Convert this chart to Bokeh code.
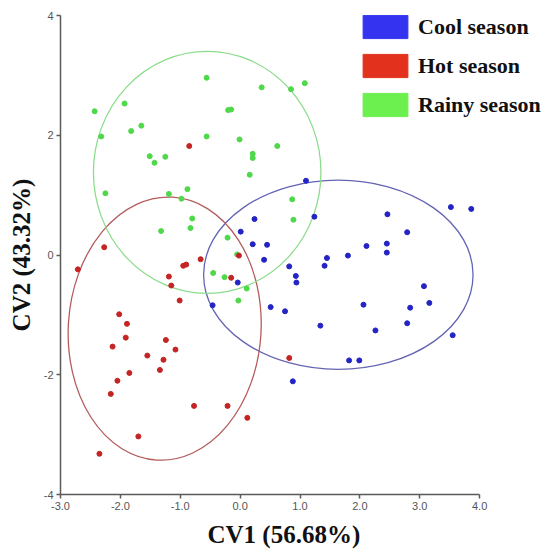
from bokeh.plotting import figure
from bokeh.models import Range1d, FixedTicker, PrintfTickFormatter, Legend, LegendItem, Title
from bokeh.embed import file_html
from bokeh.resources import INLINE

# ---- data ----
cool_x = [1.10, 0.24, 1.24, 0.01, 0.21, 0.45, 0.40, 0.82, 0.93, 1.45, 1.41, 1.80, 2.11, 2.45,
          2.45, 2.46, 2.79, 3.52, 3.86, -0.04, 0.94, -0.46, 0.51, 0.75, 1.34, 2.06, 2.26, 2.79,
          2.84, 3.07, 3.16, 3.55, 1.82, 1.99, 0.88]
cool_y = [1.24, 0.60, 0.64, 0.39, 0.18, 0.17, -0.08, -0.19, -0.35, -0.05, -0.18, -0.01, 0.15, 0.19,
          0.04, 0.68, 0.38, 0.80, 0.77, -0.46, -0.46, -0.84, -0.87, -0.94, -1.18, -0.83, -1.26, -1.14,
          -0.88, -0.52, -0.80, -1.34, -1.76, -1.76, -2.11]

hot_x = [-0.85, -2.27, -2.71, -0.95, -0.90, -1.19, -1.15, -1.01, -2.02, -1.89, -1.91, -2.13, -1.24,
         -1.08, -1.55, -1.28, -1.34, -1.85, -2.05, -2.16, -0.77, -1.70, -2.35, -0.66, -0.15, -0.02,
         0.82, -0.21, 0.12]
hot_y = [1.82, 0.13, -0.24, -0.18, -0.16, -0.36, -0.51, -0.76, -0.99, -1.15, -1.38, -1.53, -1.42,
         -1.58, -1.68, -1.75, -1.92, -1.97, -2.10, -2.32, -2.52, -3.03, -3.32, -0.07, -0.38, -0.01,
         -1.72, -2.52, -2.72]

rainy_x = [-2.43, -1.93, -2.32, -1.82, -1.65, -1.51, -1.43, -1.25, -2.25, -1.19, -0.88, -0.98, -0.80,
           -0.83, -1.32, -0.56, 0.36, 0.85, 1.08, -0.20, -0.15, -0.56, -0.01, 0.62, 0.21, 0.21, 0.16,
           0.87, 0.89, -0.21, -0.05, -0.45, -0.26, 0.11, -0.03]
rainy_y = [2.40, 2.53, 1.98, 2.07, 2.16, 1.65, 1.54, 1.64, 1.03, 1.02, 1.10, 0.94, 0.61, 0.45, 0.40,
           2.96, 2.80, 2.77, 2.87, 2.42, 2.43, 1.98, 1.93, 1.82, 1.69, 1.62, 1.34, 0.93, 0.59, 0.29,
           0.01, -0.30, -0.37, -0.56, -0.76]

# confidence ellipses: cool, hot, rainy
ell_cx = [1.64, -1.26, -0.55]
ell_cy = [-0.33, -1.23, 1.38]
ell_w = [4.50, 3.22, 3.80]
ell_h = [3.16, 4.40, 4.04]
ell_angle = [0.0, -0.06, 0.0]

season_names = ["Cool season", "Hot season", "Rainy season"]
x_ticks = [-3, -2, -1, 0, 1, 2, 3, 4]
y_ticks = [-4, -2, 0, 2, 4]
x_title = "CV1 (56.68%)"
y_title = "CV2 (43.32%)"

# ---- styles ----
point_colors = ["#2424c4", "#c42424", "#4fd84a"]
ellipse_colors = ["#6464b4", "#b45c5c", "#8cdc8c"]
legend_colors = ["#3434f0", "#e2321e", "#6cf050"]
serif = "Liberation Serif"
nan = float("nan")

p = figure(width=545, height=554, output_backend="svg", toolbar_location=None,
           x_range=Range1d(-3, 5.10), y_range=Range1d(-4, 4),
           min_border_left=60, min_border_right=0, min_border_top=15, min_border_bottom=60)
p.outline_line_color = None
p.xgrid.visible = False
p.ygrid.visible = False
p.background_fill_color = "white"
p.border_fill_color = "white"

# ellipses
for i in range(3):
    p.ellipse(x=[ell_cx[i]], y=[ell_cy[i]], width=[ell_w[i]], height=[ell_h[i]],
              angle=[ell_angle[i]], fill_color=None, line_color=ellipse_colors[i], line_width=1.3)

# points
p.scatter(rainy_x, rainy_y, size=5, color=point_colors[2])
p.scatter(hot_x, hot_y, size=5, color=point_colors[1])
p.scatter(cool_x, cool_y, size=5, color=point_colors[0])

# axes
for ax in (p.xaxis[0], p.yaxis[0]):
    ax.axis_line_color = "#5a5a5a"
    ax.axis_line_width = 1.5
    ax.major_tick_line_color = "#5a5a5a"
    ax.major_tick_line_width = 1.5
    ax.major_tick_out = 4
    ax.major_tick_in = 0
    ax.minor_tick_line_color = None
    ax.major_label_text_font = "Liberation Sans"
    ax.major_label_text_font_size = "11px"
    ax.major_label_text_color = "#555555"
    ax.major_label_standoff = 3

p.xaxis[0].ticker = FixedTicker(ticks=x_ticks)
p.xaxis[0].formatter = PrintfTickFormatter(format="%.1f")
p.xaxis[0].bounds = (-3, 4)
p.yaxis[0].ticker = FixedTicker(ticks=y_ticks)
p.yaxis[0].formatter = PrintfTickFormatter(format="%d")
p.yaxis[0].axis_label = y_title
p.yaxis[0].axis_label_text_font = serif
p.yaxis[0].axis_label_text_font_style = "bold"
p.yaxis[0].axis_label_text_font_size = "25px"
p.yaxis[0].axis_label_text_color = "#111111"
p.yaxis[0].axis_label_standoff = 6

p.add_layout(Title(text=x_title, align="left", offset=147, standoff=12,
                   text_font=serif, text_font_style="bold", text_font_size="25px",
                   text_color="#111111"), "below")

# legend with rectangular swatches
items = []
for i in range(3):
    r = p.quad(left=[nan], right=[nan], top=[nan], bottom=[nan], fill_color=legend_colors[i],
               line_color=legend_colors[i])
    items.append(LegendItem(label=season_names[i], renderers=[r]))
legend = Legend(items=items, location=(297, 375), glyph_width=56, glyph_height=29,
                label_height=23, spacing=10, label_standoff=5, padding=0, margin=0,
                border_line_color=None, background_fill_alpha=0,
                label_text_font=serif, label_text_font_style="bold",
                label_text_font_size="22px", label_text_color="#111111")
p.add_layout(legend, "center")

open("out.html", "w").write(file_html(p, INLINE))
